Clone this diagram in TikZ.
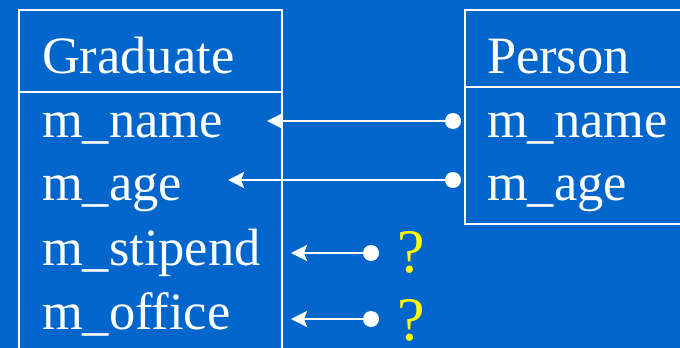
\documentclass[tikz,border=0pt]{standalone}
\usepackage{fontspec}
\setmainfont{Liberation Serif}
\usetikzlibrary{arrows.meta}
\definecolor{bg}{RGB}{0,102,204}
\definecolor{qy}{RGB}{255,255,0}
\begin{document}
\begin{tikzpicture}[x=1pt,y=-1pt,
  every node/.style={inner sep=0pt,outer sep=0pt},
  lbl/.style={anchor=base west,text=white,font=\fontsize{52.5}{60}\selectfont},
  qm/.style={anchor=base,text=qy,font=\fontsize{62}{68}\selectfont},
  frame/.style={draw=white,line width=2pt},
  dotnode/.style={circle,fill=white,minimum size=16pt},
  conn/.style={draw=white,line width=2.8pt,-{Stealth[length=16pt,width=16pt,inset=3pt]}}]
\useasboundingbox (0,0) rectangle (680,348);
\fill[bg] (0,0) rectangle (680,348);
\begin{scope}
  \clip (0,0) rectangle (680,348);
  \draw[frame] (19,10) rectangle (282,370);
  \draw[frame] (19,92) -- (282,92);
  \draw[frame] (465,10) rectangle (700,224);
  \draw[frame] (465,87) -- (700,87);
\end{scope}
% Graduate
\node[lbl] (gtitle) at (42,73) {Graduate};
\node[lbl] (gname) at (42,137) {m\_name};
\node[lbl] (gage) at (42,200) {m\_age};
\node[lbl] (gstip) at (42,265) {m\_stipend};
\node[lbl] (goff) at (42,329) {m\_office};
% Person
\node[lbl] (ptitle) at (487,73) {Person};
\node[lbl] (pname) at (487,137) {m\_name};
\node[lbl] (page) at (487,200) {m\_age};
% dots
\node[dotnode] (d1) at (453,121) {};
\node[dotnode] (d2) at (453,180) {};
\node[dotnode] (d3) at (371,253) {};
\node[dotnode] (d4) at (371,319) {};
% tips
\coordinate (t1) at (267,121);
\coordinate (t2) at (228,180);
\coordinate (t3) at (291,253);
\coordinate (t4) at (291,319);
\draw[conn] (d1.center) -- (t1);
\draw[conn] (d2.center) -- (t2);
\draw[conn] (d3.center) -- (t3);
\draw[conn] (d4.center) -- (t4);
% question marks
\node[qm] (q1) at (411,272) {?};
\node[qm] (q2) at (411,340) {?};
\end{tikzpicture}
\end{document}
